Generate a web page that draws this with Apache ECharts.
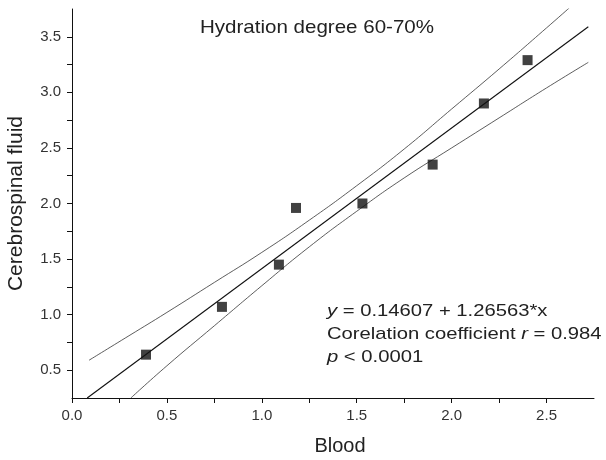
<!DOCTYPE html>
<html>
<head>
<meta charset="utf-8">
<script src="https://cdn.jsdelivr.net/npm/echarts@6/dist/echarts.min.js"></script>
<style>html,body{margin:0;padding:0;background:#fff}#c{width:606px;height:460px}</style>
</head>
<body>
<div id="c"></div>
<script>
// Measured points (Blood, Cerebrospinal fluid)
var bloodX = [0.39, 0.79, 1.09, 1.18, 1.53, 1.90, 2.17, 2.40];
var csfY   = [0.64, 1.07, 1.45, 1.96, 2.00, 2.35, 2.90, 3.29];
// Regression line endpoints
var fitX = [0.08, 2.72];
var fitY = [0.25, 3.59];
// Upper confidence band
var upperX = [0.09, 0.30, 0.50, 0.75, 1.00, 1.25, 1.50, 1.75, 2.00, 2.25, 2.50, 2.62];
var upperY = [0.59, 0.81, 1.02, 1.29, 1.56, 1.85, 2.16, 2.49, 2.85, 3.21, 3.58, 3.76];
// Lower confidence band
var lowerX = [0.31, 0.50, 0.75, 1.00, 1.25, 1.50, 1.75, 2.00, 2.25, 2.50, 2.72];
var lowerY = [0.25, 0.54, 0.90, 1.26, 1.61, 1.93, 2.23, 2.50, 2.77, 3.04, 3.27];
var titleText = 'Hydration degree 60-70%';
var xName = 'Blood';
var yName = 'Cerebrospinal fluid';
var statsText = '{i|y} = 0.14607 + 1.26563*x\nCorelation coefficient {i|r} = 0.984\n{i|p} < 0.0001';

function zip(a, b) { return a.map(function (v, i) { return [v, b[i]]; }); }
function halfLabel(v) {
  return Math.abs(v * 2 - Math.round(v * 2)) < 1e-6 ? v.toFixed(1) : '';
}
var FONT = 'Liberation Sans, Arial, sans-serif';
var chart = echarts.init(document.getElementById('c'));
chart.setOption({
  animation: false,
  grid: { left: 72, right: 12, top: 9, bottom: 62, containLabel: false, outerBoundsMode: 'none' },
  xAxis: {
    type: 'value', min: 0, max: 2.75, interval: 0.25,
    name: xName, nameLocation: 'middle', nameGap: 38,
    nameTextStyle: { fontFamily: FONT, fontSize: 20, color: '#222', padding: [0, 0, 0, 14] },
    axisLine: { show: true, lineStyle: { color: '#111', width: 1 } },
    axisTick: { show: true, inside: false, length: 5, lineStyle: { color: '#111' } },
    axisLabel: { formatter: halfLabel, fontFamily: FONT, fontSize: 15, color: '#333', margin: 10, showMaxLabel: false },
    splitLine: { show: false }
  },
  yAxis: {
    type: 'value', min: 0.25, max: 3.75, interval: 0.25,
    name: yName, nameLocation: 'middle', nameGap: 45, nameRotate: 90,
    nameTextStyle: { fontFamily: FONT, fontSize: 21, color: '#222' },
    axisLine: { show: true, lineStyle: { color: '#111', width: 1 } },
    axisTick: { show: true, inside: false, length: 5, lineStyle: { color: '#111' } },
    axisLabel: { formatter: halfLabel, fontFamily: FONT, fontSize: 15, color: '#333', margin: 11, showMaxLabel: false, showMinLabel: false },
    splitLine: { show: false }
  },
  series: [
    { type: 'line', data: zip(upperX, upperY), smooth: true, symbol: 'none', lineStyle: { color: '#333', width: 0.8 }, z: 2 },
    { type: 'line', data: zip(lowerX, lowerY), smooth: true, symbol: 'none', lineStyle: { color: '#333', width: 0.8 }, z: 2 },
    { type: 'line', data: zip(fitX, fitY), symbol: 'none', lineStyle: { color: '#111', width: 1.1 }, z: 3 },
    { type: 'scatter', data: zip(bloodX, csfY), symbol: 'rect', symbolSize: 10, itemStyle: { color: '#111' }, z: 4 }
  ],
  graphic: [
    { type: 'text', x: 200, y: 18, scaleX: 1.11, style: { text: titleText, font: '18.5px ' + FONT, fill: '#222', textAlign: 'left', textVerticalAlign: 'top' } },
    { type: 'text', x: 327, y: 300, scaleX: 1.19, style: {
      text: statsText, font: '17px ' + FONT, fill: '#222', lineHeight: 23, textAlign: 'left', textVerticalAlign: 'top',
      rich: { i: { font: 'italic 17px ' + FONT, fill: '#222', lineHeight: 23 } }
    } }
  ]
});
</script>
</body>
</html>
